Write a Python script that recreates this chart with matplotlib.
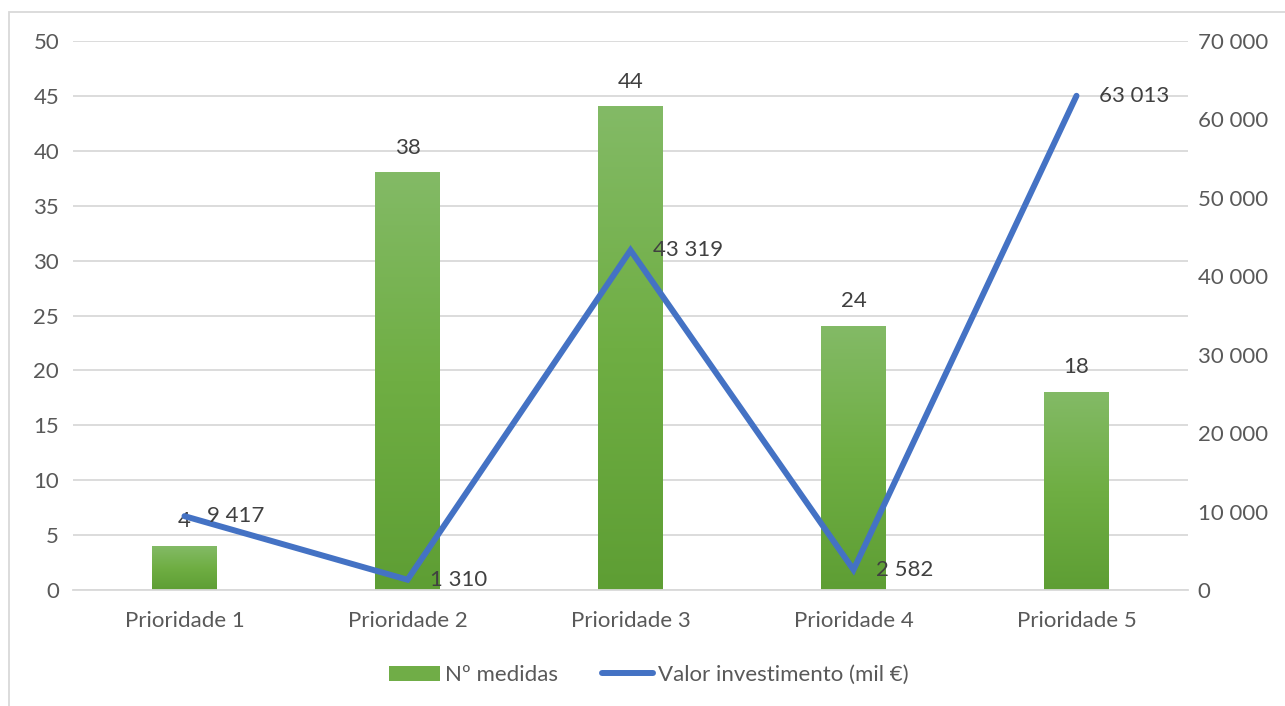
import numpy as np
import matplotlib.pyplot as plt
from matplotlib.patches import Patch, Rectangle
from matplotlib.lines import Line2D
from matplotlib.colors import LinearSegmentedColormap
from matplotlib.ticker import FuncFormatter, MultipleLocator

plt.rcParams['font.family'] = ['Lato', 'DejaVu Sans']

categorias = ["Prioridade 1", "Prioridade 2", "Prioridade 3", "Prioridade 4", "Prioridade 5"]
n_medidas = [4, 38, 44, 24, 18]
investimento = [9417, 1310, 43319, 2582, 63013]

cinza = "#595959"
verde = "#70ad47"
azul = "#4472c4"
fs = 16

fig = plt.figure(figsize=(12.85, 7.06), dpi=100)
ax = fig.add_axes([73 / 1285, 1 - 590 / 706, 1115 / 1285, 549 / 706])
ax2 = ax.twinx()

x = np.arange(len(categorias))
bars = ax.bar(x, n_medidas, width=0.29, color="none", zorder=2)

# gradiente nas barras (mais claro em cima)
grad = np.linspace(0, 1, 256).reshape(-1, 1)
cmap = LinearSegmentedColormap.from_list("g", ["#5e9e34", "#6fae43", "#83ba66"])
for b in bars:
    x0, y0 = b.get_x(), b.get_y()
    ax.imshow(grad, cmap=cmap, origin="lower", aspect="auto",
              extent=(x0, x0 + b.get_width(), y0, y0 + b.get_height()), zorder=2)

for xi, v in zip(x, n_medidas):
    ax.annotate(str(v), (xi, v), xytext=(0, 18), textcoords="offset points",
                ha="center", va="center", fontsize=fs, color="#404040")

ax.set_xlim(-0.5, len(categorias) - 0.5)
ax.set_ylim(0, 50)
ax.yaxis.set_major_locator(MultipleLocator(5))
ax.grid(axis="y", color="#d9d9d9", lw=1.3, zorder=0)
ax.set_axisbelow(True)
for s in ["top", "right", "left"]:
    ax.spines[s].set_visible(False)
ax.spines["bottom"].set_color("#d9d9d9")
ax.spines["bottom"].set_linewidth(1.3)
ax.set_xticks(x)
ax.set_xticklabels(categorias)
ax.tick_params(axis="both", length=0, labelsize=fs, labelcolor=cinza)
ax.tick_params(axis="x", pad=15)
ax.tick_params(axis="y", pad=10)

ax2.plot(x, investimento, color=azul, lw=4.3, solid_capstyle="round", solid_joinstyle="miter", zorder=3)
for xi, v in zip(x, investimento):
    ax2.annotate(f"{v:,}".replace(",", " "), (xi, v), xytext=(16, 0), textcoords="offset points",
                 ha="left", va="center", fontsize=fs, color="#404040")
ax2.set_ylim(0, 70000)
ax2.yaxis.set_major_locator(MultipleLocator(10000))
ax2.yaxis.set_major_formatter(FuncFormatter(lambda v, p: f"{int(v):,}".replace(",", " ")))
ax2.tick_params(axis="y", length=0, labelsize=fs, labelcolor=cinza, pad=7)
for s in ax2.spines.values():
    s.set_visible(False)

fig.patches.append(Rectangle((9 / 1285, -0.05), 1.1, 1 - 12 / 706 + 0.05, transform=fig.transFigure,
                             fill=False, edgecolor="#d9d9d9", lw=1.3))

handles = [Patch(facecolor=verde, edgecolor="none"),
           Line2D([0], [0], color=azul, lw=4.3, solid_capstyle="round")]
fig.legend(handles, ["Nº medidas", "Valor investimento (mil €)"], loc="center",
           bbox_to_anchor=(0.505, 1 - 675 / 706), ncol=2, frameon=False, fontsize=fs,
           labelcolor=cinza, handlelength=2.3, handleheight=0.65, handletextpad=0.2, columnspacing=2.0)

fig.savefig("out.png", dpi=100)
